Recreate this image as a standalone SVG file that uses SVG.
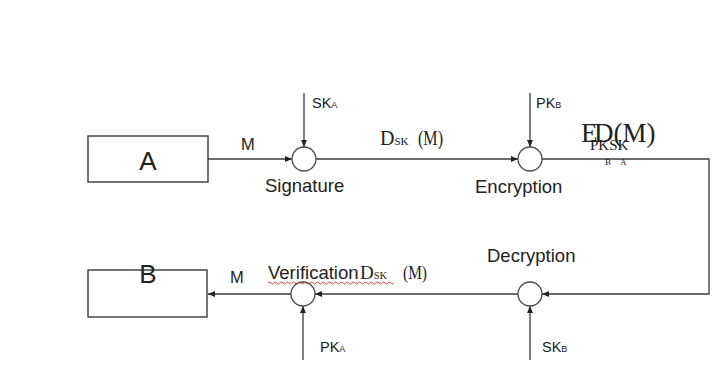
<svg xmlns="http://www.w3.org/2000/svg" width="716" height="370" viewBox="0 0 716 370">
  <style>
    .ln { stroke: #3a3a3a; stroke-width: 1.3; fill: none; }
    .box { stroke: #3a3a3a; stroke-width: 1.4; fill: #ffffff; }
    .op { stroke: #4a4a4a; stroke-width: 1.3; fill: #ffffff; }
    .sans { font-family: "Liberation Sans", Arial, sans-serif; fill: #222; }
    .serif { font-family: "Liberation Serif", "Times New Roman", serif; fill: #222; }
    .lbl { font-size: 18.5px; }
    .key { font-size: 14.5px; }
    .sub { font-size: 9px; }
  </style>
  <defs>
    <marker id="arr" markerWidth="7" markerHeight="6" refX="7" refY="3" orient="auto" markerUnits="userSpaceOnUse">
      <path d="M0,0 L7,3 L0,6 z" fill="#222"/>
    </marker>
  </defs>
  <rect width="716" height="370" fill="#ffffff"/>

  <!-- connectors -->
  <g id="connectors">
    <line class="ln" x1="208" y1="159" x2="292" y2="159" marker-end="url(#arr)"/>
    <line class="ln" x1="304" y1="93" x2="304" y2="147" marker-end="url(#arr)"/>
    <line class="ln" x1="316" y1="159" x2="518" y2="159" marker-end="url(#arr)"/>
    <line class="ln" x1="530" y1="93" x2="530" y2="147" marker-end="url(#arr)"/>
    <polyline class="ln" points="542,159 709,159 709,294 542,294" marker-end="url(#arr)"/>
    <line class="ln" x1="530" y1="360" x2="530" y2="306" marker-end="url(#arr)"/>
    <line class="ln" x1="518" y1="294" x2="315" y2="294" marker-end="url(#arr)"/>
    <line class="ln" x1="303" y1="360" x2="303" y2="306" marker-end="url(#arr)"/>
    <line class="ln" x1="291" y1="294" x2="208" y2="294" marker-end="url(#arr)"/>
  </g>

  <!-- parties -->
  <g id="nodeA">
    <rect class="box" x="88" y="136" width="120" height="46"/>
    <text class="sans" x="148" y="170" font-size="26" text-anchor="middle">A</text>
  </g>
  <g id="nodeB">
    <rect class="box" x="88" y="270" width="119" height="47"/>
    <text class="sans" x="148" y="283" font-size="26" text-anchor="middle">B</text>
  </g>

  <!-- operations -->
  <g id="signature">
    <circle class="op" cx="304" cy="159" r="12"/>
    <text class="sans lbl" x="265" y="192">Signature</text>
  </g>
  <g id="encryption">
    <circle class="op" cx="530" cy="159" r="12"/>
    <text class="sans lbl" x="475" y="193">Encryption</text>
  </g>
  <g id="decryption">
    <circle class="op" cx="530" cy="294" r="12"/>
    <text class="sans lbl" x="487" y="262">Decryption</text>
  </g>
  <g id="verification">
    <circle class="op" cx="303" cy="294" r="12"/>
    <text class="sans lbl" x="268" y="279">Verification</text>
  </g>

  <!-- keys -->
  <g id="keys">
    <text class="sans key" x="312" y="108">SK<tspan class="sub">A</tspan></text>
    <text class="sans key" x="536" y="108">PK<tspan class="sub">B</tspan></text>
    <text class="sans key" x="320" y="352">PK<tspan class="sub">A</tspan></text>
    <text class="sans key" x="542" y="352">SK<tspan class="sub">B</tspan></text>
  </g>

  <!-- message labels -->
  <g id="labels">
    <text class="sans" x="241" y="150" font-size="16.5">M</text>
    <text class="sans" x="230" y="283" font-size="16.5">M</text>
    <text class="serif" x="380" y="145" font-size="20">D<tspan font-size="11">SK</tspan></text>
    <text class="serif" x="418" y="145" font-size="20" textLength="25" lengthAdjust="spacingAndGlyphs">(M)</text>
    <text class="serif" x="360" y="279" font-size="19">D<tspan font-size="10.5">SK</tspan></text>
    <text class="serif" x="403" y="279" font-size="19" textLength="24" lengthAdjust="spacingAndGlyphs">(M)</text>
    <text class="serif" x="581" y="142" font-size="27">E</text>
    <text class="serif" x="594" y="142" font-size="27">D(M)</text>
    <text class="serif" x="590" y="150" font-size="15">PKSK</text>
    <text class="serif" x="605" y="165" font-size="9">B</text>
    <text class="serif" x="620" y="165" font-size="9">A</text>
    <path d="M268,283 q1.5,-2 3,0 t3,0 t3,0 t3,0 t3,0 t3,0 t3,0 t3,0 t3,0 t3,0 t3,0 t3,0 t3,0 t3,0 t3,0 t3,0 t3,0 t3,0 t3,0 t3,0 t3,0 t3,0 t3,0 t3,0 t3,0 t3,0 t3,0 t3,0 t3,0 t3,0 t3,0 t3,0 t3,0 t3,0 t3,0 t3,0 t3,0 t3,0 t3,0 t3,0 t3,0 t3,0" fill="none" stroke="#d02020" stroke-width="0.8"/>
  </g>
</svg>
